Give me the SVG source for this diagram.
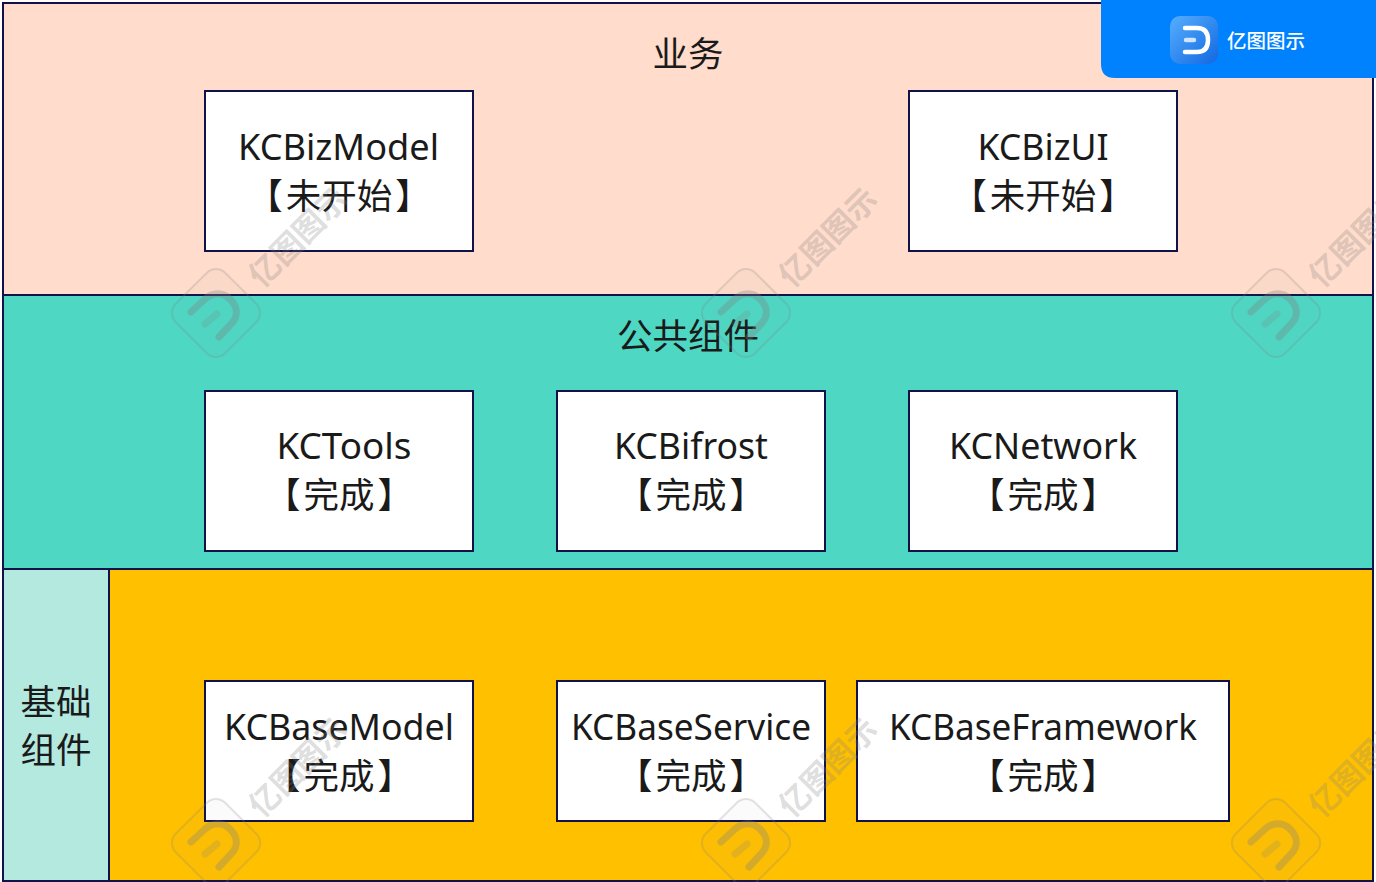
<svg xmlns="http://www.w3.org/2000/svg" width="1376" height="882" viewBox="0 0 1376 882">
<style>
.band{stroke:#12124a;stroke-width:2}
.box{fill:#fff;stroke:#12124a;stroke-width:2}
text{font-family:"Noto Sans","Noto Sans CJK SC",sans-serif;fill:#1a1a1a;font-size:35.5px;text-anchor:middle}
.cjk{font-family:"Noto Sans CJK SC",sans-serif;font-size:35.5px}
.wm{font-family:"Noto Sans CJK SC",sans-serif;font-size:31px;font-weight:700;fill:#808080;fill-opacity:.27;text-anchor:start}
</style>
<defs>
<g id="mark">
<rect x="-35" y="-35" width="70" height="70" rx="13" transform="translate(216 313) rotate(-45)" fill="#808080" fill-opacity=".03" stroke="#808080" stroke-opacity=".22" stroke-width="2"/>
<path d="M191 312 L205 299 C213 292 223 292 230 299 C238 307 238 316 232 323 L219 337" fill="none" stroke="#808080" stroke-opacity=".32" stroke-width="7" stroke-linecap="round"/>
<path d="M205 324 L217 314" fill="none" stroke="#808080" stroke-opacity=".2" stroke-width="7" stroke-linecap="round"/>
<text class="wm" transform="translate(262 289) rotate(-45)">亿图图示</text>
</g>
</defs>
<g id="layer-biz"><rect class="band" x="3" y="3" width="1370" height="292" fill="#ffdccb"/><text class="cjk" x="688" y="67">业务</text></g>
<g id="layer-common"><rect class="band" x="3" y="295" width="1370" height="274" fill="#4ed8c4"/><text class="cjk" x="688" y="349">公共组件</text></g>
<g id="layer-base"><rect class="band" x="3" y="569" width="1370" height="312" fill="#ffc000"/></g>
<g id="layer-base-label"><rect class="band" x="3" y="569" width="106" height="312" fill="#b4e9e0"/><text class="cjk" x="56" y="715">基础</text><text class="cjk" x="56" y="763">组件</text></g>
<g id="KCBizModel"><rect class="box" x="205" y="91" width="268" height="160"/><text x="338.500" y="160" textLength="201" lengthAdjust="spacingAndGlyphs">KCBizModel</text><text class="cjk" x="339" y="209">【<tspan dx="3">未开始</tspan><tspan dx="3">】</tspan></text></g>
<g id="KCBizUI"><rect class="box" x="909" y="91" width="268" height="160"/><text x="1043" y="160" textLength="131" lengthAdjust="spacingAndGlyphs">KCBizUI</text><text class="cjk" x="1043" y="209">【<tspan dx="3">未开始</tspan><tspan dx="3">】</tspan></text></g>
<g id="KCTools"><rect class="box" x="205" y="391" width="268" height="160"/><text x="344" y="459" textLength="135" lengthAdjust="spacingAndGlyphs">KCTools</text><text class="cjk" x="339" y="508">【<tspan dx="3">完成</tspan><tspan dx="3">】</tspan></text></g>
<g id="KCBifrost"><rect class="box" x="557" y="391" width="268" height="160"/><text x="691" y="459" textLength="154" lengthAdjust="spacingAndGlyphs">KCBifrost</text><text class="cjk" x="691" y="508">【<tspan dx="3">完成</tspan><tspan dx="3">】</tspan></text></g>
<g id="KCNetwork"><rect class="box" x="909" y="391" width="268" height="160"/><text x="1043" y="459" textLength="188" lengthAdjust="spacingAndGlyphs">KCNetwork</text><text class="cjk" x="1043" y="508">【<tspan dx="3">完成</tspan><tspan dx="3">】</tspan></text></g>
<g id="KCBaseModel"><rect class="box" x="205" y="681" width="268" height="140"/><text x="339" y="740" textLength="230" lengthAdjust="spacingAndGlyphs">KCBaseModel</text><text class="cjk" x="339" y="789">【<tspan dx="3">完成</tspan><tspan dx="3">】</tspan></text></g>
<g id="KCBaseService"><rect class="box" x="557" y="681" width="268" height="140"/><text x="691" y="740" textLength="240" lengthAdjust="spacingAndGlyphs">KCBaseService</text><text class="cjk" x="691" y="789">【<tspan dx="3">完成</tspan><tspan dx="3">】</tspan></text></g>
<g id="KCBaseFramework"><rect class="box" x="857" y="681" width="372" height="140"/><text x="1043" y="740" textLength="308" lengthAdjust="spacingAndGlyphs">KCBaseFramework</text><text class="cjk" x="1043" y="789">【<tspan dx="3">完成</tspan><tspan dx="3">】</tspan></text></g>
<g id="connectors"/>
<g id="watermark">
<use href="#mark"/><use href="#mark" x="530"/><use href="#mark" x="1060"/>
<use href="#mark" y="530"/><use href="#mark" x="530" y="530"/><use href="#mark" x="1060" y="530"/>
</g>
<g id="badge">
<path d="M1101 0H1376V78H1115Q1101 78 1101 64Z" fill="#0082ff"/>
<defs><linearGradient id="ig" x1="0" y1="0" x2="1" y2="1"><stop offset="0" stop-color="#56aeff"/><stop offset="1" stop-color="#1268e0"/></linearGradient></defs>
<rect x="1170" y="16" width="48" height="48" rx="10" fill="url(#ig)"/>
<path d="M1185 28H1197Q1208 28 1208 40Q1208 52 1197 52H1185" fill="none" stroke="#fff" stroke-width="4.5" stroke-linecap="round"/>
<path d="M1186 40H1194" fill="none" stroke="#cfe4ff" stroke-width="4.5" stroke-linecap="round"/>
<text x="1227" y="48" style="font-family:'Noto Sans CJK SC',sans-serif;font-size:19.500px;font-weight:500;fill:#fff;text-anchor:start">亿图图示</text>
</g>
</svg>
